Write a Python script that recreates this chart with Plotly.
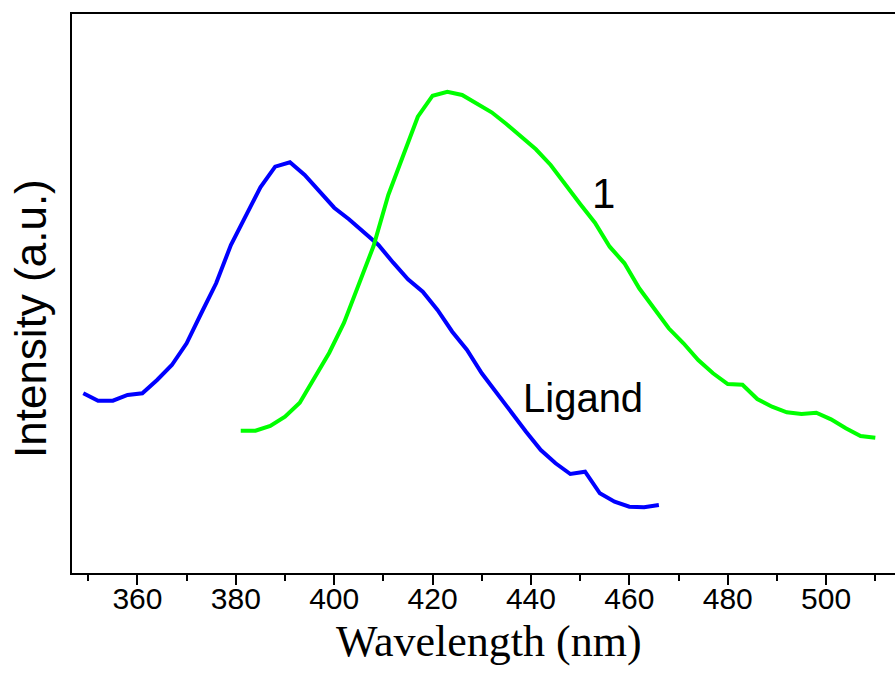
import plotly.graph_objects as go

# Ligand emission (wavelength nm, intensity a.u.)
ligand_wl = [349, 352, 355, 358, 361, 364, 367, 370, 373, 376, 379, 382, 385, 388, 391,
             394, 397, 400, 403, 406, 409, 412, 415, 418, 421, 424, 427, 430, 433, 436,
             439, 442, 445, 448, 451, 454, 457, 460, 463, 466]
ligand_px = [393.3, 400.7, 400.7, 395, 393.3, 380, 365, 343.3, 313, 283.3, 245, 216, 187.3,
             166.7, 162.3, 175, 190.7, 207.7, 219.3, 231.7, 245, 262.7, 279.3, 291.7, 310,
             331.7, 350, 373.3, 393.3, 413.3, 431.7, 450, 463.3, 474, 471.7, 493.3, 501.7,
             506.7, 507.3, 505]
ligand_int = [573 - v for v in ligand_px]

# Compound 1 emission
c1_wl = [381, 384, 387, 390, 393, 396, 399, 402, 405, 408, 411, 414, 417, 420, 423, 426,
         429, 432, 435, 438, 441, 444, 447, 450, 453, 456, 459, 462, 465, 468, 471, 474,
         477, 480, 483, 486, 489, 492, 495, 498, 501, 504, 507, 510]
c1_px = [430.7, 430.7, 426, 416.7, 402.7, 378.3, 352.7, 322.7, 283.3, 246, 195, 155, 116.7,
         95.7, 91.7, 95, 103.3, 112.3, 124, 136.7, 149.3, 165, 185, 204, 222.7, 246.7, 263.3,
         288.3, 308.3, 328.3, 343.3, 360, 373.3, 384, 384.7, 399, 406.7, 412.3, 414, 412.7,
         419.3, 428.3, 436, 437.7]
c1_int = [573 - v for v in c1_px]

x_ticks = [360, 380, 400, 420, 440, 460, 480, 500]

SANS = "Liberation Sans, Arial, sans-serif"
SERIF = "Liberation Serif, Times New Roman, serif"

fig = go.Figure()
fig.add_trace(go.Scatter(x=ligand_wl, y=ligand_int, mode="lines",
                         line=dict(color="#0000FF", width=4), name="Ligand"))
fig.add_trace(go.Scatter(x=c1_wl, y=c1_int, mode="lines",
                         line=dict(color="#00FF00", width=4), name="1"))

fig.add_annotation(x=450.5, y=573 - 398, text="Ligand", showarrow=False,
                   font=dict(family=SANS, size=40, color="black"))
fig.add_annotation(x=454.8, y=573 - 193, text="1", showarrow=False,
                   font=dict(family=SANS, size=42, color="black"))

# axis titles
fig.add_annotation(xref="paper", yref="paper", x=0.5067, y=-0.1218,
                   xanchor="center", yanchor="middle", showarrow=False,
                   text="Wavelength (nm)",
                   font=dict(family=SERIF, size=44, color="black"))
fig.add_annotation(xref="paper", yref="paper", x=-0.0498, y=0.4544,
                   xanchor="center", yanchor="middle", showarrow=False, textangle=-90,
                   text="Intensity (a.u.)",
                   font=dict(family=SANS, size=44, color="black"))

fig.update_layout(
    width=895, height=684,
    margin=dict(l=72, r=0, t=14, b=111),
    paper_bgcolor="white", plot_bgcolor="white",
    showlegend=False,
    xaxis=dict(
        range=[346.7, 514.0],
        tickvals=x_ticks, ticktext=[str(t) for t in x_ticks],
        ticks="outside", ticklen=10, tickwidth=2, tickcolor="black",
        ticklabelstandoff=-12,
        minor=dict(dtick=10, tick0=350, ticks="outside", ticklen=6, tickwidth=2, tickcolor="black"),
        showline=True, linecolor="black", linewidth=2, mirror=True,
        showgrid=False, zeroline=False,
        tickfont=dict(family=SANS, size=30, color="black"),
    ),
    yaxis=dict(
        range=[0, 559],
        showticklabels=False, ticks="",
        showline=True, linecolor="black", linewidth=2,
        showgrid=False, zeroline=False,
    ),
)

fig.write_html("out.html")
